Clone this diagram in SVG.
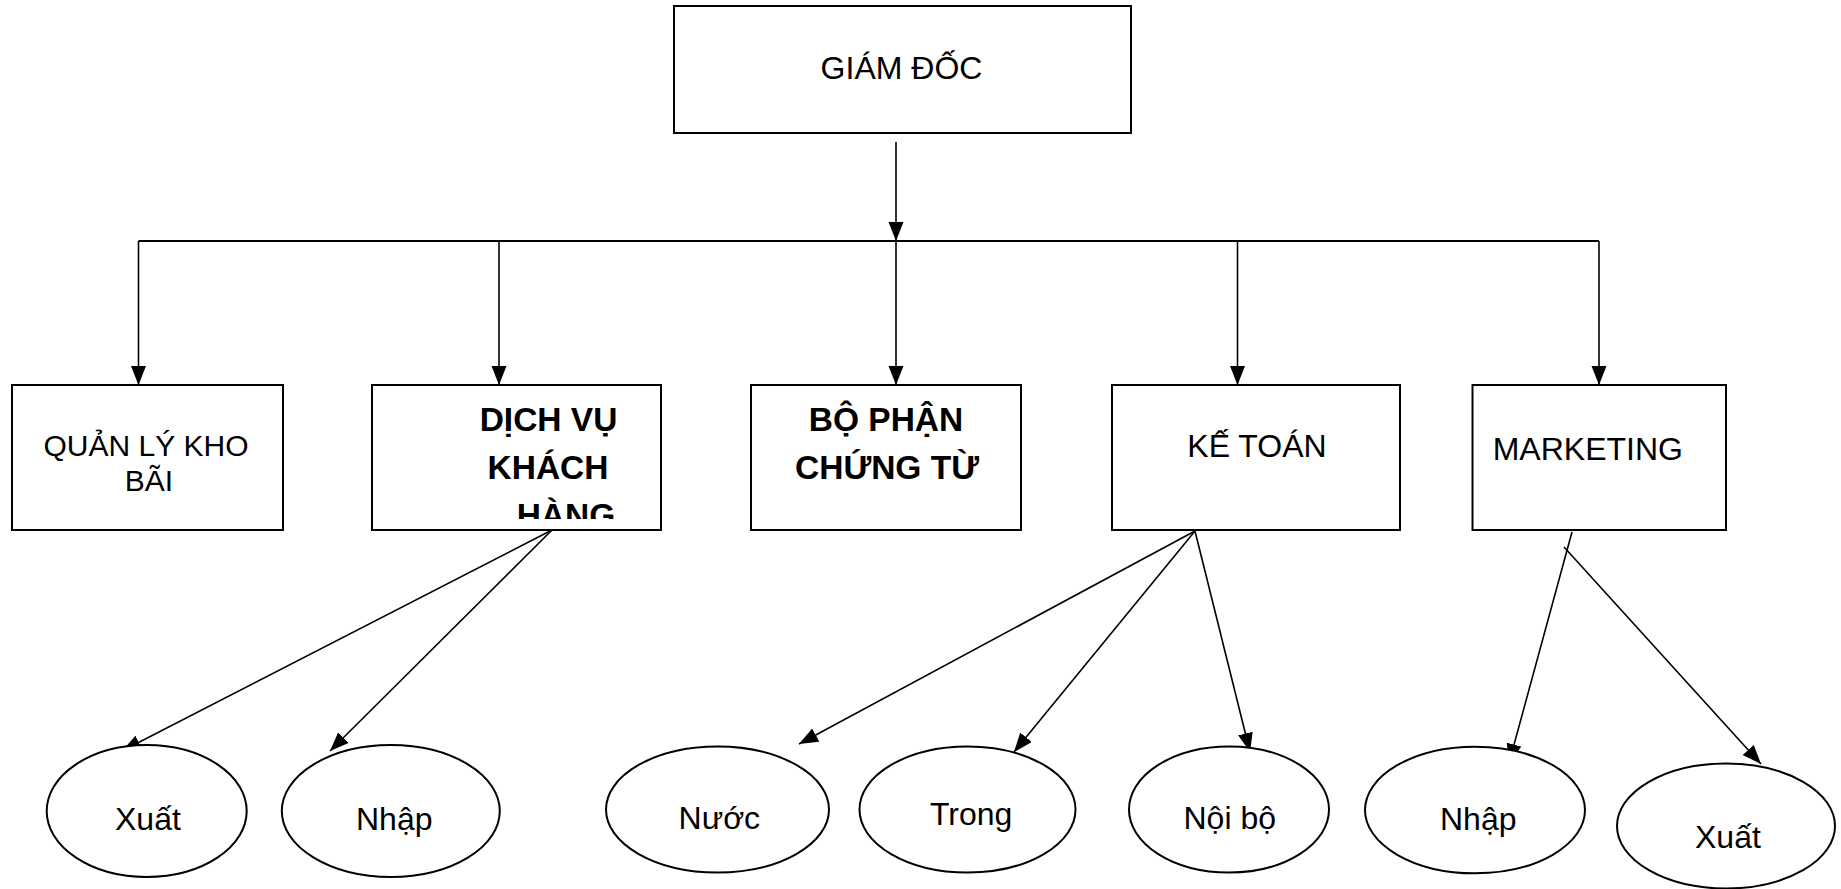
<svg xmlns="http://www.w3.org/2000/svg" width="1841" height="889" viewBox="0 0 1841 889">
<style>
.box{fill:#fff;stroke:#000;stroke-width:2}
.ell{fill:#fff;stroke:#000;stroke-width:2}
.t{font-family:"Liberation Sans",Arial,sans-serif;font-size:32px;fill:#000}
.b{font-weight:bold;font-size:33.5px}
.s{font-size:30px}
.c{text-anchor:middle}
.ln{stroke:#000;stroke-width:2;fill:none}
.ar{stroke:#000;stroke-width:1.6;fill:none;marker-end:url(#ah)}
</style>
<defs>
<marker id="ah" markerUnits="userSpaceOnUse" markerWidth="22" markerHeight="16" refX="19" refY="7.5" orient="auto">
<path d="M0,0 L19,7.5 L0,15 Z" fill="#000"/>
</marker>
<clipPath id="clipDV"><rect x="372" y="384" width="290" height="135"/></clipPath>
</defs>
<rect width="1841" height="889" fill="#fff"/>
<g id="connectors">
<line class="ar" x1="896" y1="142" x2="896" y2="241"/>
<line class="ln" x1="138.5" y1="241" x2="1599" y2="241"/>
<line class="ar" x1="138.5" y1="241" x2="138.5" y2="385"/>
<line class="ar" x1="499" y1="241" x2="499" y2="385"/>
<line class="ar" x1="896" y1="241" x2="896" y2="385"/>
<line class="ar" x1="1237.5" y1="241" x2="1237.5" y2="385"/>
<line class="ar" x1="1599" y1="241" x2="1599" y2="385"/>
<line class="ar" x1="552" y1="530" x2="122" y2="751"/>
<line class="ar" x1="552" y1="530" x2="330" y2="751"/>
<line class="ar" x1="1195" y1="531" x2="799" y2="744"/>
<line class="ar" x1="1195" y1="531" x2="1014" y2="752"/>
<line class="ar" x1="1195" y1="531" x2="1250" y2="752"/>
<line class="ar" x1="1572" y1="532" x2="1509" y2="763"/>
<line class="ar" x1="1564" y1="547" x2="1761" y2="764"/>
</g>
<g id="giamdoc">
<rect class="box" x="674" y="6" width="457" height="127"/>
<text class="t c" x="901.5" y="79">GIÁM ĐỐC</text>
</g>
<g id="quanlykho">
<rect class="box" x="12" y="385" width="271" height="145"/>
<text class="t s c" x="146" y="456">QUẢN LÝ KHO</text>
<text class="t s c" x="149" y="491">BÃI</text>
</g>
<g id="dichvu">
<rect class="box" x="372" y="385" width="289" height="145"/>
<g clip-path="url(#clipDV)">
<text class="t b c" x="548.5" y="431">DỊCH VỤ</text>
<text class="t b c" x="548" y="479">KHÁCH</text>
<text class="t b c" x="566" y="527">HÀNG</text>
</g>
</g>
<g id="bophan">
<rect class="box" x="751" y="385" width="270" height="145"/>
<text class="t b c" x="886" y="431">BỘ PHẬN</text>
<text class="t b c" x="887" y="479">CHỨNG TỪ</text>
</g>
<g id="ketoan">
<rect class="box" x="1112" y="385" width="288" height="145"/>
<text class="t c" x="1257" y="457">KẾ TOÁN</text>
</g>
<g id="marketing">
<rect class="box" x="1472.5" y="385" width="253.5" height="145"/>
<text class="t" x="1492.7" y="460">MARKETING</text>
</g>
<g id="xuat1">
<ellipse class="ell" cx="146.7" cy="811" rx="100" ry="66"/>
<text class="t" x="115" y="830">Xuất</text>
</g>
<g id="nhap1">
<ellipse class="ell" cx="390.8" cy="811" rx="109" ry="66"/>
<text class="t" x="356" y="830">Nhập</text>
</g>
<g id="nuoc">
<ellipse class="ell" cx="717.5" cy="809.5" rx="111.5" ry="63"/>
<text class="t" x="678.6" y="829">Nước</text>
</g>
<g id="trong">
<ellipse class="ell" cx="967.5" cy="809.5" rx="108" ry="63"/>
<text class="t" x="930" y="825">Trong</text>
</g>
<g id="noibo">
<ellipse class="ell" cx="1229" cy="809.5" rx="100" ry="63"/>
<text class="t" x="1183.5" y="829">Nội bộ</text>
</g>
<g id="nhap2">
<ellipse class="ell" cx="1475" cy="810" rx="110" ry="63.3"/>
<text class="t" x="1440" y="830">Nhập</text>
</g>
<g id="xuat2">
<ellipse class="ell" cx="1726" cy="826" rx="109" ry="62.5"/>
<text class="t" x="1695" y="848">Xuất</text>
</g>
</svg>
